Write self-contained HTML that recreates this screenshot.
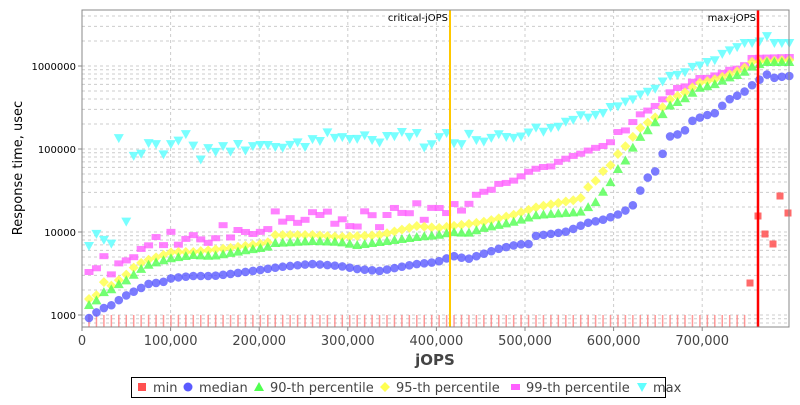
<!DOCTYPE html>
<html><head><meta charset="utf-8"><style>
body{margin:0;background:#fff;width:800px;height:400px;overflow:hidden;font-family:"Liberation Sans","DejaVu Sans",sans-serif}
</style></head><body>
<svg id="s" width="800" height="400" xmlns="http://www.w3.org/2000/svg" font-family="DejaVu Sans, Liberation Sans, sans-serif">
<rect x="82" y="10" width="707" height="317" fill="#fff"/>
<g id="grid"></g>
<g id="pts"></g>
<line x1="450" y1="10" x2="450" y2="327" stroke="#ffc800" stroke-width="2"/>
<line x1="758" y1="10" x2="758" y2="327" stroke="#ff0000" stroke-width="2.5"/>
<text x="448" y="21" font-size="10" text-anchor="end">critical-jOPS</text>
<text x="756" y="21" font-size="10" text-anchor="end">max-jOPS</text>
<rect x="82" y="10" width="707" height="317" fill="none" stroke="#888"/>
<g id="ax" font-size="11" fill="#444"></g>
<text x="435" y="365" font-size="15" font-weight="bold" text-anchor="middle" fill="#444">jOPS</text>
<text transform="translate(22,168) rotate(-90)" font-size="13" text-anchor="middle">Response time, usec</text>
<rect x="131.5" y="377.5" width="534" height="20" fill="#fff" stroke="#000"/>
<g font-size="13" fill="#444">
<rect x="138" y="383" width="8" height="8" fill="#ff5050"/><text x="153" y="392">min</text>
<circle cx="188" cy="387" r="4.5" fill="#5a5aff"/><text x="199" y="392">median</text>
<polygon points="259,382 264,391 254,391" fill="#50ff50"/><text x="270" y="392">90-th percentile</text>
<polygon points="385,382 390,387 385,392 380,387" fill="#ffff50"/><text x="396" y="392">95-th percentile</text>
<rect x="511" y="384" width="9" height="6" fill="#ff60ff"/><text x="526" y="392">99-th percentile</text>
<polygon points="637,383 647,383 642,392" fill="#60ffff"/><text x="653" y="392">max</text>
</g>
</svg>
<script>
var ns="http://www.w3.org/2000/svg";
function el(p,t,a){var e=document.createElementNS(ns,t);for(var k in a)e.setAttribute(k,a[k]);p.appendChild(e);return e;}
var g=document.getElementById('grid'),ax=document.getElementById('ax'),P=document.getElementById('pts');
function Y(v){return 315-83*Math.log10(v/1000);}
for(var d=2;d<=6;d++)for(var m=1;m<10;m++){var v=Math.pow(10,d)*m;var y=Y(v);if(y<10||y>327)continue;
el(g,'line',{x1:82,x2:789,y1:y,y2:y,stroke:'#ccc','stroke-dasharray':'3,3'});}
[1000,10000,100000,1000000].forEach(function(v){var t=el(ax,'text',{x:76,y:Y(v)+4,'text-anchor':'end','font-size':10,fill:'#000'});t.textContent=v;el(ax,'line',{x1:78,x2:82,y1:Y(v),y2:Y(v),stroke:'#888'});});
for(var k=0;k<=7;k++){var x=82+k*88.6;if(k>0)el(g,'line',{x1:x,x2:x,y1:10,y2:327,stroke:'#ccc','stroke-dasharray':'3,3'});
var t=el(ax,'text',{x:x,y:345,'text-anchor':'middle','font-size':13});t.textContent=k==0?'0':(k*100)+',000';el(ax,'line',{x1:x,x2:x,y1:327,y2:331,stroke:'#888'});}
function interp(kp,x){if(x<=kp[0][0])return kp[0][1];for(var i=0;i<kp.length-1;i++){if(x<=kp[i+1][0]){var a=kp[i],b=kp[i+1];return a[1]+(b[1]-a[1])*(x-a[0])/(b[0]-a[0]);}}return kp[kp.length-1][1];}
var S={
med:[[89,318],[97,312],[104,308],[112,305],[119,300],[127,295],[133,292],[141,288],[148,284],[163,282],[172,278],[193,276],[213,276],[230,274],[260,270],[280,267],[300,265],[313,264],[340,266],[357,269],[380,271],[400,267],[417,264],[437,262],[453,256],[468,259],[483,254],[498,249],[520,244],[527,246],[535,236],[550,234],[565,232],[573,229],[587,223],[602,220],[617,215],[632,207],[639,193],[647,178],[654,174],[661,159],[668,137],[683,133],[692,121],[706,115],[713,115],[721,107],[728,100],[743,93],[751,86],[758,81],[766,74],[773,78],[780,77],[788,76]],
p90:[[89,305],[97,300],[104,292],[112,289],[119,284],[127,280],[141,269],[148,265],[157,262],[172,258],[193,255],[213,256],[230,253],[247,250],[267,247],[275,243],[313,241],[340,242],[357,245],[380,242],[417,237],[438,235],[453,232],[468,233],[483,228],[513,222],[537,215],[563,213],[580,212],[595,203],[602,193],[610,183],[617,170],[624,163],[632,149],[639,138],[647,131],[662,115],[669,106],[684,99],[699,88],[713,85],[728,78],[743,73],[751,67],[766,62],[788,62]],
p95:[[89,299],[97,295],[104,282],[112,286],[119,280],[127,274],[133,268],[141,263],[148,260],[157,257],[172,252],[193,252],[230,248],[267,243],[275,235],[313,235],[340,237],[380,235],[417,226],[438,228],[453,226],[483,222],[513,215],[537,207],[563,202],[580,199],[587,188],[594,183],[602,172],[610,166],[617,155],[624,148],[632,138],[639,129],[647,123],[654,119],[662,108],[669,100],[684,93],[699,83],[713,80],[728,75],[743,69],[751,62],[766,61],[788,60]],
p99:[[89,272],[97,268],[104,256],[112,276],[119,263],[133,258],[141,249],[148,246],[157,236],[163,246],[172,230],[178,245],[187,238],[193,235],[200,239],[208,243],[216,238],[223,225],[230,238],[238,230],[253,234],[260,232],[268,229],[275,211],[282,222],[290,218],[297,223],[304,221],[312,212],[320,215],[327,211],[335,224],[342,219],[349,226],[357,227],[364,211],[372,215],[379,228],[387,215],[393,207],[402,213],[408,215],[417,203],[423,222],[431,208],[438,207],[446,214],[453,203],[461,211],[468,205],[476,195],[483,192],[491,190],[498,184],[506,183],[513,181],[520,177],[528,172],[535,169],[543,167],[550,167],[558,162],[565,159],[573,156],[580,154],[587,151],[595,148],[603,146],[610,143],[617,132],[624,132],[632,123],[639,115],[647,111],[654,107],[662,100],[669,93],[677,88],[684,87],[692,82],[699,78],[707,78],[713,76],[722,73],[728,70],[736,69],[743,67],[751,58],[788,57]],
max:[[89,246],[97,233],[104,240],[112,244],[119,135],[126,224],[133,156],[141,154],[148,143],[156,144],[163,155],[171,144],[178,141],[186,134],[193,145],[201,160],[208,148],[216,152],[223,146],[231,152],[238,144],[246,151],[253,146],[260,145],[268,145],[275,147],[282,148],[290,145],[297,142],[305,147],[312,139],[320,141],[327,132],[334,138],[342,137],[349,139],[357,139],[364,135],[372,140],[379,143],[387,136],[393,137],[402,132],[408,138],[416,131],[423,148],[431,145],[438,138],[446,132],[453,143],[461,145],[468,133],[476,140],[483,142],[491,138],[498,134],[506,137],[513,138],[520,137],[528,133],[535,127],[543,132],[550,128],[558,127],[565,122],[573,120],[580,115],[587,118],[595,115],[603,113],[610,107],[617,107],[624,102],[632,100],[639,95],[647,92],[654,90],[662,82],[669,76],[677,75],[684,73],[692,67],[699,66],[707,62],[713,62],[720,55],[728,51],[736,48],[743,43],[751,43],[758,43],[766,35],[773,43],[788,43]]};
for(var i=0;i<95;i++){var x=89+i*7.45;
if(x<750)el(P,'line',{x1:x,x2:x,y1:315,y2:327,stroke:'#ff8080','stroke-width':1.5,opacity:0.8});
var y;
y=interp(S.max,x);el(P,'polygon',{points:(x-5)+','+(y-4)+' '+(x+5)+','+(y-4)+' '+x+','+(y+5),fill:'#60ffff',opacity:0.85});
y=interp(S.p99,x);el(P,'rect',{x:x-4.5,y:y-3,width:9,height:6,fill:'#ff60ff',opacity:0.8});
y=interp(S.p95,x);el(P,'polygon',{points:x+','+(y-5)+' '+(x+5)+','+y+' '+x+','+(y+5)+' '+(x-5)+','+y,fill:'#ffff50',opacity:0.85});
y=interp(S.p90,x);el(P,'polygon',{points:x+','+(y-5)+' '+(x+5)+','+(y+4)+' '+(x-5)+','+(y+4),fill:'#50ff50',opacity:0.8});
y=interp(S.med,x);el(P,'circle',{cx:x,cy:y,r:4.3,fill:'#5a5aff',opacity:0.8});
}
[[750,283],[758,216],[765,234],[773,244],[780,196],[788,213]].forEach(function(p){el(P,'rect',{x:p[0]-3.5,y:p[1]-3.5,width:7,height:7,fill:'#ff5050',opacity:0.85});});
</script>
</body></html>
